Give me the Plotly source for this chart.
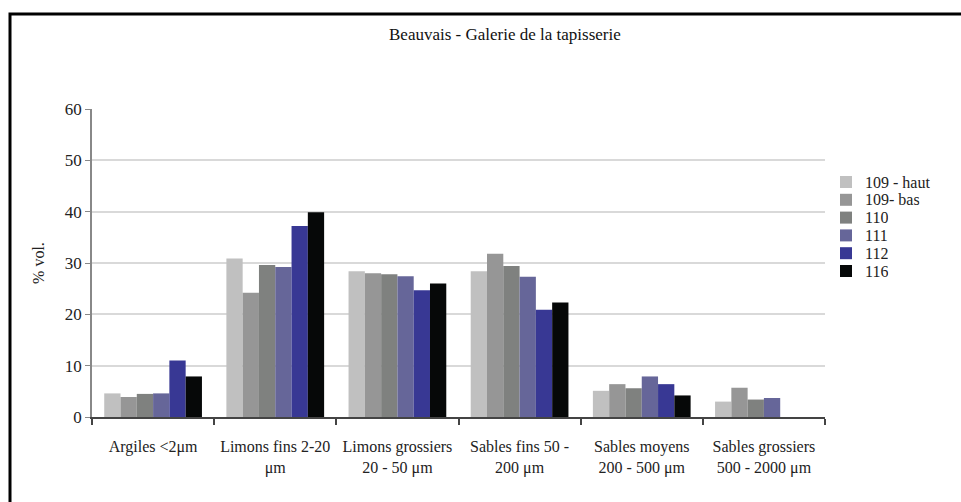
import plotly.graph_objects as go

categories = [
    "Argiles <2μm",
    "Limons fins 2-20<br>μm",
    "Limons grossiers<br>20 - 50 μm",
    "Sables fins 50 -<br>200 μm",
    "Sables moyens<br>200 - 500 μm",
    "Sables grossiers<br>500 - 2000 μm",
]

series_names = ["109 - haut", "109- bas", "110", "111", "112", "116"]

s109_haut = [4.6, 30.9, 28.4, 28.4, 5.1, 3.0]
s109_bas = [3.9, 24.2, 28.0, 31.8, 6.4, 5.7]
s110 = [4.5, 29.6, 27.8, 29.4, 5.6, 3.4]
s111 = [4.6, 29.2, 27.4, 27.3, 7.9, 3.7]
s112 = [11.0, 37.2, 24.7, 20.9, 6.4, None]
s116 = [7.9, 39.9, 26.0, 22.3, 4.2, None]

series_values = [s109_haut, s109_bas, s110, s111, s112, s116]
colors = ["#c0c0c0", "#969696", "#7f817f", "#666699", "#383894", "#060808"]

FONT = "Liberation Serif"

fig = go.Figure()
for name, vals, col in zip(series_names, series_values, colors):
    fig.add_trace(go.Bar(
        x=categories, y=vals, name=name, showlegend=False,
        marker=dict(color=col, line=dict(width=0)),
    ))

# plot area: x 92..825, y 109..417 in pixels
L, R, T, B = 92, 825, 109, 417
W, H = 961, 502
pw, ph = R - L, B - T

def px(x):
    return (x - L) / pw

def py(y):
    return (B - y) / ph

shapes = [
    dict(
        type="rect", xref="paper", yref="paper",
        x0=px(10), x1=px(975), y0=py(515), y1=py(14),
        line=dict(color="black", width=3), fillcolor="rgba(0,0,0,0)",
        layer="above",
    )
]
annotations = [
    dict(
        text="Beauvais - Galerie de la tapisserie",
        xref="paper", yref="paper", x=px(505), y=py(34),
        xanchor="center", yanchor="middle", showarrow=False,
        font=dict(family=FONT, size=17, color="#111111"),
    )
]

# compact legend: swatch + label per series
row0, row_step = 182, 17.8
for i, (name, col) in enumerate(zip(series_names, colors)):
    yc = row0 + i * row_step
    shapes.append(dict(
        type="rect", xref="paper", yref="paper",
        x0=px(840), x1=px(852), y0=py(yc + 6), y1=py(yc - 6),
        line=dict(width=0), fillcolor=col,
    ))
    annotations.append(dict(
        text=name, xref="paper", yref="paper",
        x=px(863), y=py(yc), xanchor="left", yanchor="middle",
        height=17, valign="middle",
        showarrow=False, font=dict(family=FONT, size=16, color="#222222"),
    ))

fig.update_layout(
    width=W, height=H,
    margin=dict(l=L, r=W - R, t=T, b=H - B, autoexpand=False),
    paper_bgcolor="white", plot_bgcolor="white",
    barmode="group", bargap=0.2, bargroupgap=0,
    font=dict(family=FONT, color="#222222", size=16),
    showlegend=False,
    xaxis=dict(
        type="category", showgrid=False, automargin=False,
        showline=True, linecolor="#444444", linewidth=1.5,
        ticks="outside", tickson="boundaries", ticklen=6,
        tickcolor="#444444", tickwidth=1.5, tickangle=0,
        tickfont=dict(family=FONT, size=16, color="#222222"),
        ticklabelstandoff=14,
    ),
    yaxis=dict(
        range=[0, 60], dtick=10, automargin=False,
        showgrid=True, gridcolor="#d9d9d9", gridwidth=1.5,
        showline=True, linecolor="#888888", linewidth=1.5,
        ticks="outside", ticklen=5, tickcolor="#888888",
        tickfont=dict(family=FONT, size=17, color="#222222"),
        title=dict(text="% vol.", font=dict(family=FONT, size=16, color="#222222"), standoff=16),
        zeroline=False,
    ),
    annotations=annotations,
    shapes=shapes,
)

fig.write_html("out.html")
